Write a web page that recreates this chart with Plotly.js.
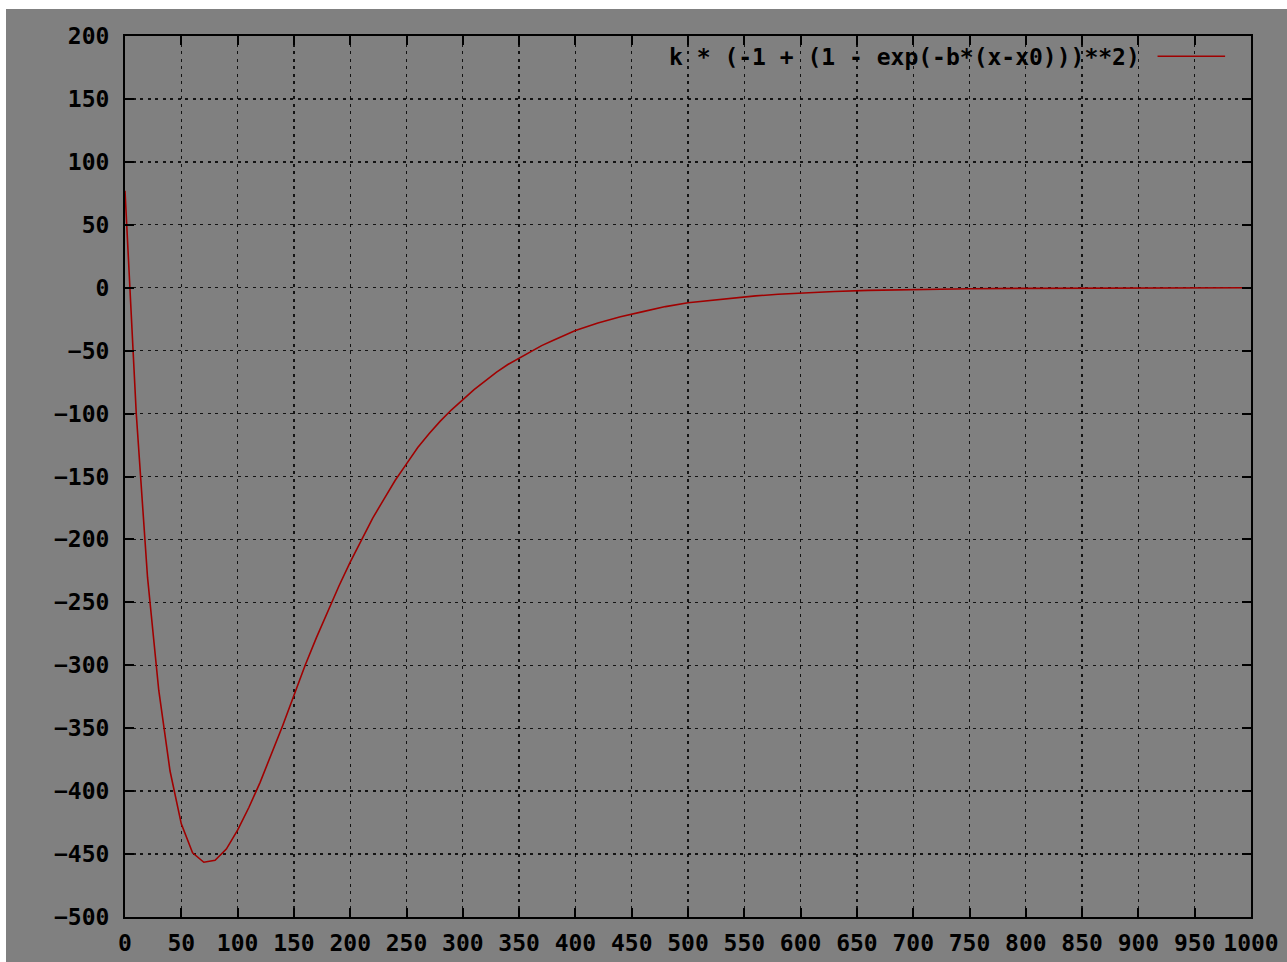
<!DOCTYPE html>
<html>
<head>
<meta charset="utf-8">
<script src="https://cdn.plot.ly/plotly-3.0.1.min.js"></script>
<style>
  html, body { margin: 0; padding: 0; background: #ffffff; width: 1287px; height: 962px; overflow: hidden; }
  #chart { position: absolute; left: 6px; top: 9px; width: 1281px; height: 953px; }
</style>
</head>
<body>
<div id="chart"></div>
<script>
const xValues = [0,10,20,30,40,50,60,70,80,90,100,110,120,130,140,150,160,170,180,190,200,210,220,230,240,250,260,270,280,290,300,310,320,330,340,350,360,370,380,390,400,420,440,460,480,500,520,540,560,580,600,630,660,700,750,800,850,900,950,1000];
const yValues = [77,-100,-230,-320,-384,-426,-449,-456.5,-455,-446,-431,-413,-393,-371,-348,-324,-300,-278,-257,-237,-218,-200,-183,-168,-153,-140,-127,-116,-106,-97,-89,-81,-74,-67,-61,-56,-51,-46,-42,-38,-34,-28,-23,-19,-15,-12,-10,-8,-6.5,-5.2,-4.2,-3,-2.1,-1.4,-0.8,-0.5,-0.3,-0.2,-0.1,-0.07];
const seriesName = "k * (-1 + (1 - exp(-b*(x-x0)))**2)";
const xRange = [0, 1000];
const yRange = [-500, 200];
const tickStep = 50;

const font = { family: "DejaVu Sans Mono", size: 23, color: "#000000", weight: "bold" };

const axisCommon = {
  showline: true, linecolor: "#000000", linewidth: 2, mirror: "allticks",
  ticks: "inside", ticklen: 9, tickwidth: 2, tickcolor: "#000000",
  showgrid: true, gridcolor: "rgba(0,0,0,0.85)", gridwidth: 1.4, griddash: "3px,4.5px",
  zeroline: false, tickfont: font, dtick: tickStep, tick0: 0, fixedrange: true
};

const trace = {
  x: xValues, y: yValues, type: "scatter", mode: "lines", name: seriesName,
  line: { color: "#a00000", width: 1.6 }, showlegend: false, hoverinfo: "skip"
};

const layout = {
  width: 1281, height: 953,
  paper_bgcolor: "#808080", plot_bgcolor: "#808080",
  margin: { l: 119, r: 36, t: 27, b: 45, pad: 0 },
  xaxis: Object.assign({}, axisCommon, { range: xRange, ticklabelstandoff: 4 }),
  yaxis: Object.assign({}, axisCommon, { range: yRange, ticklabelstandoff: 9 }),
  showlegend: false,
  annotations: [{
    xref: "paper", yref: "paper", x: 0.903, y: 0.976, xanchor: "right", yanchor: "middle",
    text: seriesName, showarrow: false, font: font
  }],
  shapes: [{
    type: "line", xref: "paper", yref: "paper", x0: 0.917, x1: 0.977, y0: 0.977, y1: 0.977,
    line: { color: "#a00000", width: 1.6 }
  }]
};

Plotly.newPlot("chart", [trace], layout, { staticPlot: true, displayModeBar: false });
</script>
</body>
</html>
